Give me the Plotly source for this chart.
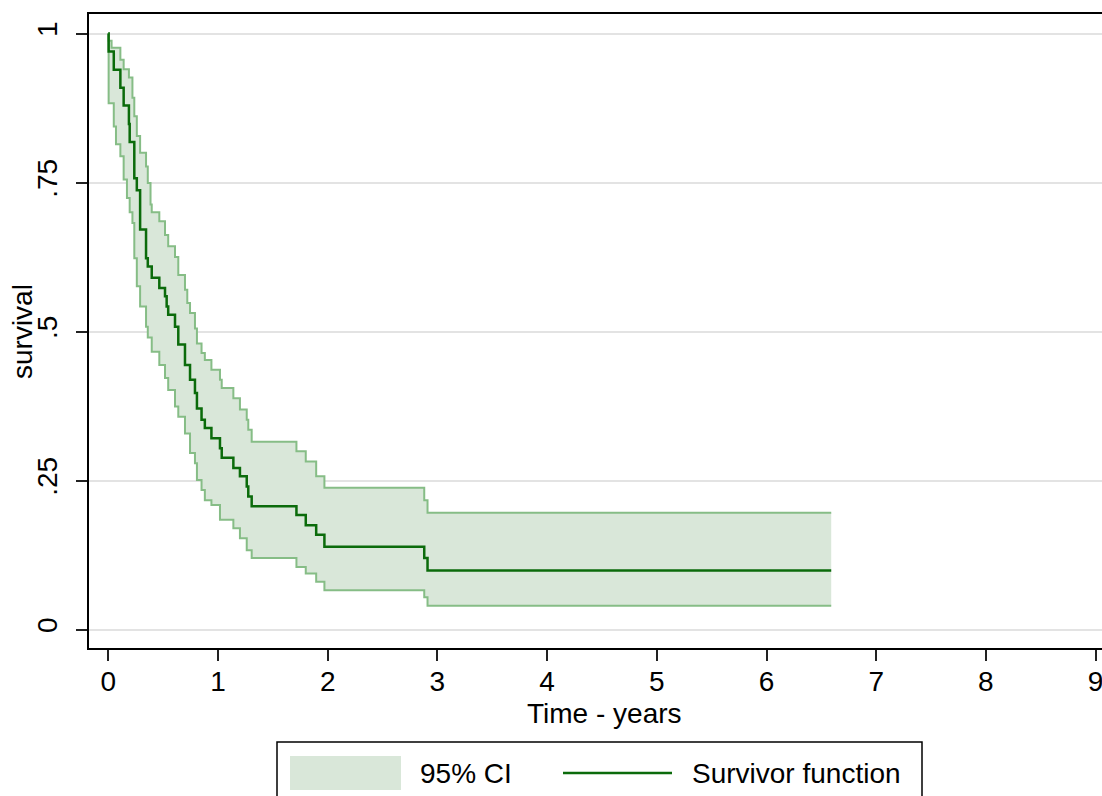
import plotly.graph_objects as go

# ---- data (Kaplan-Meier survivor function, years) ----
surv_time = [0, 0.003, 0.05, 0.11, 0.14, 0.188, 0.195, 0.237, 0.26, 0.29,
             0.344, 0.36, 0.396, 0.465, 0.517, 0.532, 0.546, 0.608, 0.638, 0.699,
             0.745, 0.79, 0.808, 0.85, 0.88, 0.94, 1.018, 1.034, 1.14, 1.2,
             1.262, 1.276, 1.307, 1.715, 1.80, 1.895, 1.97, 2.88, 2.91, 6.59]
surv = [1, 0.970, 0.939, 0.909, 0.879, 0.848, 0.818, 0.757, 0.737, 0.671,
        0.623, 0.609, 0.590, 0.573, 0.559, 0.542, 0.528, 0.508, 0.478, 0.444,
        0.419, 0.397, 0.371, 0.352, 0.338, 0.321, 0.304, 0.288, 0.271, 0.257,
        0.240, 0.223, 0.207, 0.192, 0.175, 0.159, 0.139, 0.120, 0.099, 0.099]

upper_time = [0, 0.003, 0.03, 0.11, 0.14, 0.188, 0.22, 0.237, 0.26, 0.29,
              0.344, 0.36, 0.385, 0.396, 0.465, 0.517, 0.546, 0.608, 0.638, 0.699,
              0.72, 0.745, 0.79, 0.808, 0.85, 0.88, 0.94, 1.018, 1.034, 1.14,
              1.2, 1.262, 1.276, 1.307, 1.715, 1.80, 1.895, 1.97, 2.88, 2.91, 6.59]
upper = [1, 0.988, 0.976, 0.956, 0.940, 0.926, 0.892, 0.861, 0.828, 0.800,
         0.777, 0.749, 0.713, 0.700, 0.685, 0.662, 0.643, 0.625, 0.595, 0.570,
         0.548, 0.531, 0.505, 0.480, 0.464, 0.452, 0.436, 0.419, 0.405, 0.388,
         0.369, 0.352, 0.335, 0.315, 0.299, 0.282, 0.257, 0.238, 0.217, 0.196, 0.196]

lower_time = [0, 0.003, 0.05, 0.07, 0.11, 0.14, 0.17, 0.195, 0.22, 0.237,
              0.26, 0.29, 0.344, 0.36, 0.396, 0.465, 0.517, 0.546, 0.608, 0.638,
              0.699, 0.745, 0.79, 0.808, 0.85, 0.88, 0.94, 1.018, 1.14, 1.2,
              1.262, 1.307, 1.715, 1.80, 1.895, 1.97, 2.88, 2.91, 6.59]
lower = [1, 0.883, 0.844, 0.814, 0.794, 0.755, 0.724, 0.700, 0.682, 0.623,
         0.576, 0.542, 0.508, 0.490, 0.466, 0.444, 0.422, 0.402, 0.374, 0.357,
         0.329, 0.296, 0.279, 0.251, 0.234, 0.217, 0.209, 0.184, 0.170, 0.153,
         0.133, 0.120, 0.105, 0.094, 0.080, 0.066, 0.054, 0.040, 0.040]

x_ticks = [0, 1, 2, 3, 4, 5, 6, 7, 8, 9]
y_ticks = [0, 0.25, 0.5, 0.75, 1]
y_tick_text = ["0", ".25", ".5", ".75", "1"]
x_title = "Time - years"
y_title = "survival"
legend_labels = ["95% CI", "Survivor function"]

# ---- styling ----
FONT = "Liberation Sans, Arial, sans-serif"
FILL = "#d9e7d9"
CI_LINE = "#86bd86"
SURV_LINE = "#0b6b0b"
W, H = 1102, 796
L, T, R, B = 89, 14, 0, 148
PW, PH = W - L - R, H - T - B


def px(xp):
    return (xp - L) / PW


def py(yp):
    return (T + PH - yp) / PH


fig = go.Figure()
fig.add_trace(go.Scatter(x=lower_time, y=lower, mode="lines",
                         line=dict(shape="hv", width=0, color="rgba(0,0,0,0)"),
                         hoverinfo="skip", showlegend=False))
fig.add_trace(go.Scatter(x=upper_time, y=upper, mode="lines", fill="tonexty",
                         fillcolor=FILL,
                         line=dict(shape="hv", width=0, color="rgba(0,0,0,0)"),
                         hoverinfo="skip", showlegend=False))
fig.add_trace(go.Scatter(x=lower_time, y=lower, mode="lines",
                         line=dict(shape="hv", width=2, color=CI_LINE),
                         showlegend=False))
fig.add_trace(go.Scatter(x=upper_time, y=upper, mode="lines",
                         line=dict(shape="hv", width=2, color=CI_LINE),
                         showlegend=False))
fig.add_trace(go.Scatter(x=surv_time, y=surv, mode="lines",
                         line=dict(shape="hv", width=2.5, color=SURV_LINE),
                         showlegend=False))

x_per_px = 1 / 109.7
y_per_px = 1 / 596.0
x0_px, y0_px, y1_px = 108.3, 629.5, 33.5
x_range = [-(x0_px - L) * x_per_px, (W - R - x0_px) * x_per_px]
y_range = [-(T + PH - y0_px) * y_per_px, 1 + (y1_px - T) * y_per_px]

fig.update_layout(
    width=W, height=H,
    margin=dict(l=L, r=R, t=T, b=B, pad=0),
    paper_bgcolor="white", plot_bgcolor="white",
    font=dict(family=FONT, size=28, color="black"),
    showlegend=False,
    xaxis=dict(range=x_range, tickvals=x_ticks, showgrid=False, zeroline=False,
               showline=True, linecolor="black", linewidth=2, mirror=True,
               ticks="outside", ticklen=11, tickwidth=2, tickcolor="#222",
               ticklabeloverflow="allow", ticklabelstandoff=-4,
               tickfont=dict(size=28, family=FONT, color="black")),
    yaxis=dict(range=y_range, tickvals=y_ticks, ticktext=y_tick_text,
               tickangle=-90, showgrid=True, gridcolor="#e3e3e3", gridwidth=2,
               zeroline=False, showline=True, linecolor="black", linewidth=2,
               mirror=False, ticks="outside", ticklen=11, tickwidth=2,
               tickcolor="#222", ticklabelstandoff=8,
               tickfont=dict(size=28, family=FONT, color="black")),
)

annotations = [
    dict(text=x_title, x=px(604), y=py(713), xref="paper", yref="paper",
         xanchor="center", yanchor="middle", showarrow=False,
         font=dict(size=28, family=FONT, color="black")),
    dict(text=y_title, x=px(22), y=py(332), xref="paper", yref="paper",
         xanchor="center", yanchor="middle", showarrow=False, textangle=-90,
         font=dict(size=28, family=FONT, color="black")),
    dict(text=legend_labels[0], x=px(418), y=py(773), xref="paper", yref="paper",
         xanchor="left", yanchor="middle", showarrow=False,
         font=dict(size=28, family=FONT, color="black")),
    dict(text=legend_labels[1], x=px(690), y=py(773), xref="paper", yref="paper",
         xanchor="left", yanchor="middle", showarrow=False,
         font=dict(size=28, family=FONT, color="black")),
]
shapes = [
    dict(type="rect", xref="paper", yref="paper", x0=px(277), x1=px(922),
         y0=py(812), y1=py(742), line=dict(color="black", width=1.5),
         fillcolor="rgba(0,0,0,0)"),
    dict(type="rect", xref="paper", yref="paper", x0=px(290), x1=px(401),
         y0=py(790), y1=py(756), line=dict(width=0), fillcolor=FILL),
    dict(type="line", xref="paper", yref="paper", x0=px(563), x1=px(672),
         y0=py(773), y1=py(773), line=dict(color=SURV_LINE, width=2.5)),
]
fig.update_layout(annotations=annotations, shapes=shapes)

fig.write_html("out.html")
